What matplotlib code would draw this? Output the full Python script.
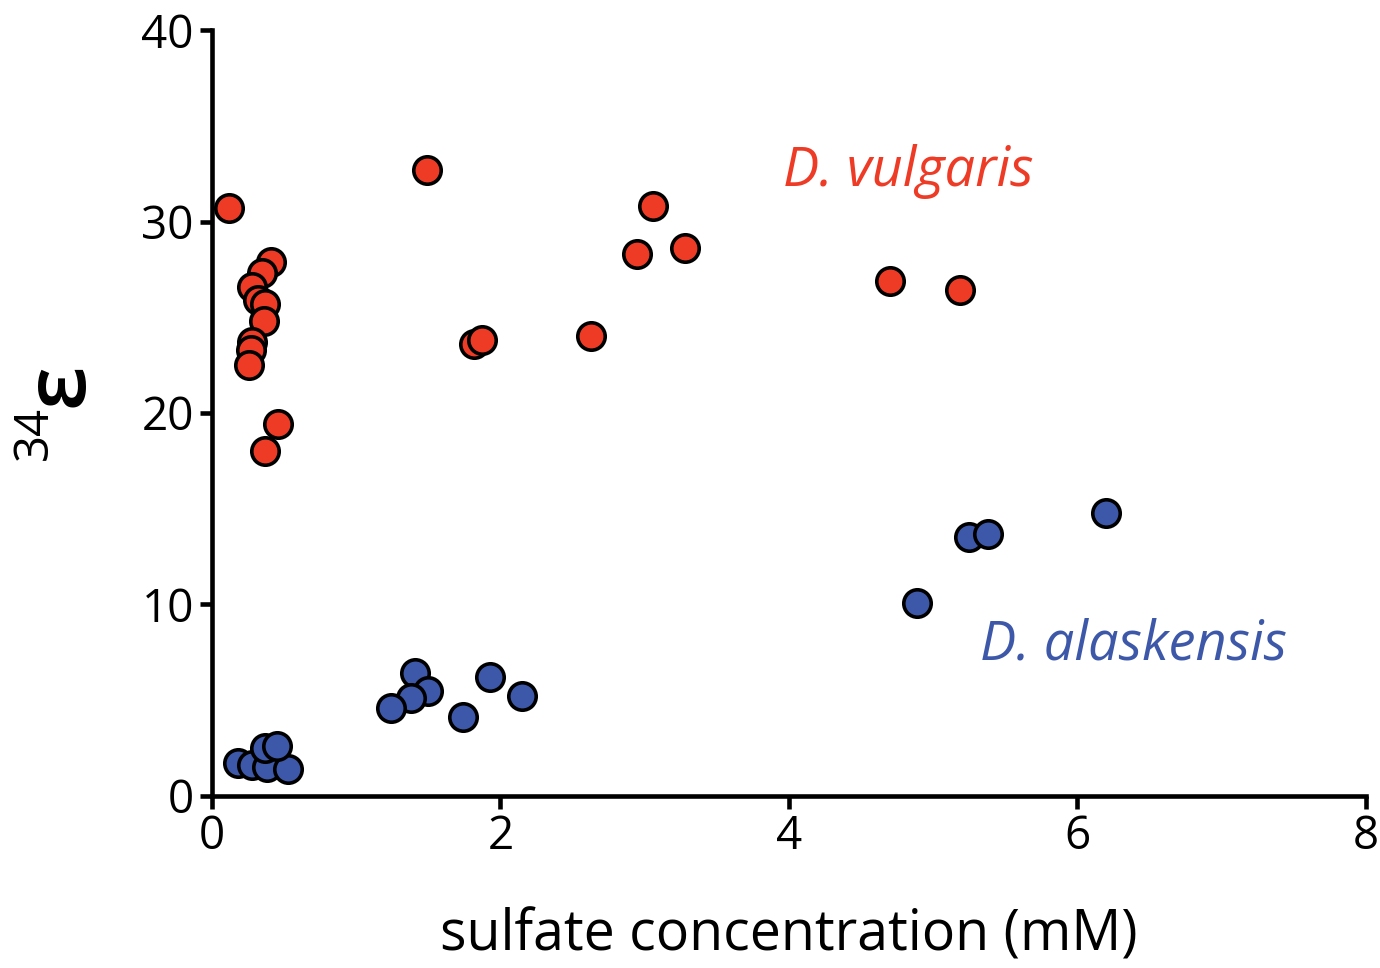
import matplotlib.pyplot as plt

# D. vulgaris (red)
vul_x = [0.12, 1.49, 3.06, 2.95, 3.28, 2.63, 1.82, 1.87, 4.70, 5.19,
         0.41, 0.35, 0.28, 0.32, 0.37, 0.36, 0.28, 0.27, 0.26, 0.46, 0.37]
vul_y = [30.7, 32.7, 30.8, 28.3, 28.6, 24.0, 23.6, 23.8, 26.9, 26.4,
         27.9, 27.3, 26.6, 25.9, 25.7, 24.8, 23.7, 23.3, 22.5, 19.4, 18.0]

# D. alaskensis (blue)
ala_x = [6.20, 5.25, 5.38, 4.89, 1.41, 1.50, 1.38, 1.24, 1.74, 1.93, 2.15,
         0.18, 0.28, 0.38, 0.53, 0.37, 0.45]
ala_y = [14.8, 13.5, 13.7, 10.1, 6.4, 5.5, 5.1, 4.6, 4.1, 6.2, 5.2,
         1.7, 1.6, 1.5, 1.4, 2.5, 2.6]

red = '#EE3B26'
blue = '#3D58A8'

plt.rcParams['font.family'] = ['Open Sans', 'DejaVu Sans']
fig = plt.figure(figsize=(13.8, 9.68), dpi=100)
ax = fig.add_axes([0.1536, 0.1777, 0.836, 0.7913])

ax.scatter(vul_x, vul_y, s=390, c=red, edgecolors='black', linewidths=2.6, zorder=3, clip_on=False)
ax.scatter(ala_x, ala_y, s=390, c=blue, edgecolors='black', linewidths=2.6, zorder=3, clip_on=False)

ax.text(4.83, 32.6, 'D. vulgaris', color=red, fontsize=39, style='italic', ha='center', va='center')
ax.text(6.39, 7.9, 'D. alaskensis', color=blue, fontsize=39, style='italic', ha='center', va='center')

ax.set_xlim(0, 8)
ax.set_ylim(0, 40)
ax.set_xticks([0, 2, 4, 6, 8])
ax.set_yticks([0, 10, 20, 30, 40])
ax.spines['top'].set_visible(False)
ax.spines['right'].set_visible(False)
for s in ['left', 'bottom']:
    ax.spines[s].set_linewidth(3.3)
ax.tick_params(width=3.3, length=9, labelsize=33, pad=4)

ax.set_xlabel('sulfate concentration (mM)', fontsize=40, labelpad=34)

# y label: superscript 34 + epsilon, rotated
fig.text(0.025, 0.553, '34', fontsize=34, rotation=90, ha='center', va='center')
fig.text(0.0435, 0.602, 'ε', fontsize=62, fontweight='semibold', rotation=90, ha='center', va='center')

fig.savefig('out.png', dpi=100)
